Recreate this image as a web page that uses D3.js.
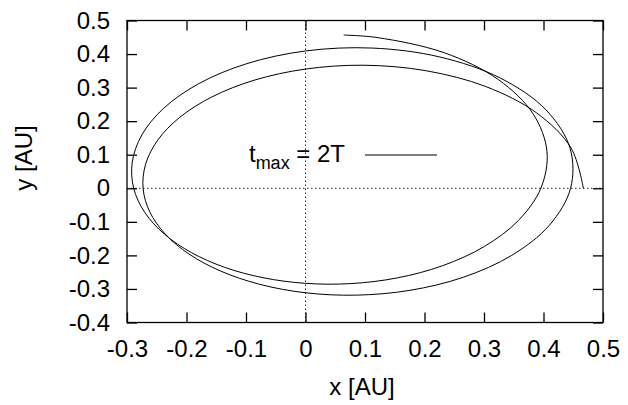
<!DOCTYPE html>
<html lang="en">
<head>
<meta charset="UTF-8">
<title>Orbit t_max = 2T</title>
<script src="https://d3js.org/d3.v7.min.js"></script>
<style>
  body { margin: 0; background: #fff; }
  text { font-family: "Liberation Sans", Arial, sans-serif; fill: #000; }
</style>
</head>
<body>
<svg id="chart" width="628" height="405"></svg>
<script>
// orbit, in AU, in the order it is drawn
const orbitX = [0.467, 0.4465, 0.3886, 0.3031, 0.2023, 0.0982, 0, -0.0863, -0.1572, -0.2114,
  -0.2484, -0.2687, -0.2730, -0.2618, -0.2359, -0.1959, -0.1425, -0.0767, 0, 0.0853,
  0.1756, 0.2652, 0.3465, 0.4100, 0.4455, 0.4447, 0.4043, 0.3280, 0.2259, 0.1120,
  0, -0.0994, -0.1798, -0.2384, -0.2751, -0.2912, -0.2888, -0.2700, -0.2370, -0.1917,
  -0.1360, -0.0714, 0, 0.0761, 0.1542, 0.2306, 0.3005, 0.3579, 0.3955, 0.4059,
  0.3828, 0.3240, 0.2332, 0.1204, 0.0642];
const orbitY = [0, 0.1196, 0.2244, 0.3031, 0.3504, 0.3667, 0.3553, 0.3220, 0.2723, 0.2114,
  0.1434, 0.0720, 0, -0.0701, -0.1362, -0.1959, -0.2468, -0.2863, -0.3114, -0.3185,
  -0.3041, -0.2652, -0.2000, -0.1099, 0, 0.1192, 0.2334, 0.3280, 0.3912, 0.4179,
  0.4092, 0.3710, 0.3114, 0.2384, 0.1588, 0.0780, 0, -0.0723, -0.1369, -0.1917,
  -0.2355, -0.2665, -0.2833, -0.2841, -0.2671, -0.2306, -0.1735, -0.0959, 0, 0.1088,
  0.2210, 0.3240, 0.4039, 0.4492, 0.4567];

const xTicks = [-0.3, -0.2, -0.1, 0, 0.1, 0.2, 0.3, 0.4, 0.5];
const yTicks = [-0.4, -0.3, -0.2, -0.1, 0, 0.1, 0.2, 0.3, 0.4, 0.5];

const svg = d3.select("#chart");
const fontSize = 24;
const pLeft = 127, pRight = 603, pTop = 20.5, pBottom = 322.5;

const x = d3.scaleLinear().domain([-0.3, 0.5]).range([pLeft, pRight]);
const y = d3.scaleLinear().domain([-0.4, 0.5]).range([pBottom, pTop]);
const fmt = d => d === 0 ? "0" : d.toFixed(1);

// dotted zero axes
svg.append("line")
  .attr("x1", pLeft).attr("x2", pRight)
  .attr("y1", y(0)).attr("y2", y(0))
  .attr("stroke", "#222").attr("stroke-width", 1)
  .attr("stroke-dasharray", "1.5,2.5");
svg.append("line")
  .attr("x1", x(0)).attr("x2", x(0))
  .attr("y1", pTop).attr("y2", pBottom)
  .attr("stroke", "#222").attr("stroke-width", 1)
  .attr("stroke-dasharray", "1.5,2.5");

// the orbit
const pts = orbitX.map((v, i) => [v, orbitY[i]]);
const line = d3.line()
  .x(d => x(d[0]))
  .y(d => y(d[1]))
  .curve(d3.curveCatmullRom.alpha(0.5));
svg.append("path")
  .datum(pts)
  .attr("d", line)
  .attr("fill", "none")
  .attr("stroke", "#000")
  .attr("stroke-width", 1);

// axes, ticks pointing inwards on all four sides
function styleAxis(g) {
  g.select(".domain").remove();
  g.selectAll(".tick line").attr("stroke", "#000").attr("stroke-width", 1.3);
  g.selectAll("text")
    .style("font-family", '"Liberation Sans", Arial, sans-serif')
    .style("font-size", fontSize + "px")
    .attr("fill", "#000");
}

svg.append("g")
  .attr("transform", `translate(0,${pBottom})`)
  .call(d3.axisBottom(x).tickValues(xTicks).tickFormat(fmt).tickSize(-10).tickPadding(17))
  .call(styleAxis);
svg.append("g")
  .attr("transform", `translate(0,${pTop})`)
  .call(d3.axisTop(x).tickValues(xTicks).tickFormat("").tickSize(-10))
  .call(styleAxis);
svg.append("g")
  .attr("transform", `translate(${pLeft},0)`)
  .call(d3.axisLeft(y).tickValues(yTicks).tickFormat(fmt).tickSize(-10).tickPadding(17))
  .call(styleAxis);
svg.append("g")
  .attr("transform", `translate(${pRight},0)`)
  .call(d3.axisRight(y).tickValues(yTicks).tickFormat("").tickSize(-10))
  .call(styleAxis);

// frame
svg.append("rect")
  .attr("x", pLeft).attr("y", pTop)
  .attr("width", pRight - pLeft).attr("height", pBottom - pTop)
  .attr("fill", "none")
  .attr("stroke", "#000")
  .attr("stroke-width", 1.3);

// axis titles
svg.append("text")
  .attr("x", 362).attr("y", 395)
  .attr("text-anchor", "middle")
  .style("font-size", fontSize + "px")
  .text("x [AU]");
svg.append("text")
  .attr("transform", "translate(32,158) rotate(-90)")
  .attr("text-anchor", "middle")
  .style("font-size", fontSize + "px")
  .text("y [AU]");

// key
const key = svg.append("text")
  .attr("x", 345).attr("y", 162)
  .attr("text-anchor", "end")
  .style("font-size", fontSize + "px");
key.append("tspan").text("t");
key.append("tspan").attr("dy", 7).style("font-size", "18px").text("max");
key.append("tspan").attr("dy", -7).text(" = 2T");
svg.append("line")
  .attr("x1", 365).attr("x2", 437)
  .attr("y1", 155).attr("y2", 155)
  .attr("stroke", "#000").attr("stroke-width", 1);
</script>
</body>
</html>
